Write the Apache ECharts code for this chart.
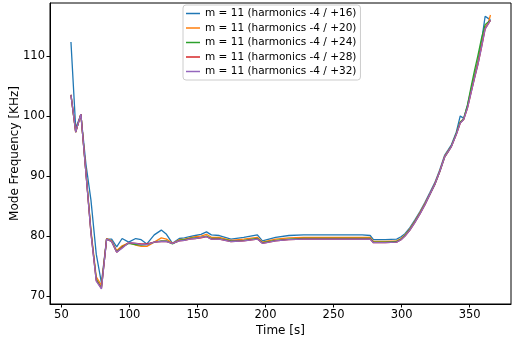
<!DOCTYPE html>
<html><head><meta charset="utf-8">
<script src="https://cdn.jsdelivr.net/npm/echarts@6/dist/echarts.min.js"></script>
<style>html,body{margin:0;padding:0;background:#fff}#c{width:512px;height:337px}</style>
</head><body><div id="c"></div>
<script>
var times = [57, 60.5, 64.3, 68, 71.7, 75.6, 79.4, 83.2, 86.9, 90.6, 94.6, 99.4, 104.6, 108.6, 112.8, 118.2, 123.4, 127.2, 131.6, 136.6, 140.4, 144.2, 148.4, 152.6, 156.6, 160.2, 166, 174.6, 184, 194, 197.7, 207.4, 217.2, 228, 239, 250, 262, 271, 276.9, 279.3, 288, 296.4, 299.6, 302.5, 306.1, 309.8, 313.5, 317.1, 320.7, 324.4, 328, 331.7, 334.1, 336.6, 340.2, 343.1, 345.6, 348.4, 351.2, 353.6, 356.1, 358.8, 361.4, 363.9, 365.3];
var h16 = [112.3, 98.0, 100.2, 92.0, 86.0, 77.0, 72.2, 79.5, 79.5, 78.2, 79.6, 79.0, 79.6, 79.4, 78.7, 80.2, 81.0, 80.3, 78.8, 79.6, 79.7, 79.9, 80.1, 80.3, 80.7, 80.2, 80.1, 79.5, 79.8, 80.2, 79.2, 79.8, 80.1, 80.2, 80.2, 80.2, 80.2, 80.2, 80.1, 79.4, 79.4, 79.5, 79.9, 80.4, 81.4, 82.7, 84.1, 85.6, 87.2, 88.9, 91.0, 93.5, 94.3, 95.2, 97.3, 100.0, 99.6, 101.8, 104.5, 106.8, 109.2, 112.5, 116.6, 116.2, 116.0];
var h20 = [103.5, 97.3, 100.3, 90.8, 81.0, 73.2, 71.8, 79.6, 79.2, 77.6, 78.4, 78.9, 78.5, 78.3, 78.3, 79.0, 79.7, 79.5, 78.8, 79.4, 79.5, 79.7, 79.9, 80.0, 80.3, 79.8, 79.8, 79.3, 79.5, 79.8, 79.0, 79.5, 79.7, 79.8, 79.8, 79.8, 79.8, 79.8, 79.8, 79.1, 79.1, 79.2, 79.6, 80.2, 81.2, 82.5, 83.9, 85.4, 87.0, 88.7, 90.8, 93.3, 94.1, 95.0, 97.0, 99.0, 99.5, 101.5, 104.2, 106.5, 108.9, 111.8, 114.8, 115.6, 116.8];
var h24 = [103.5, 97.3, 100.3, 90.6, 80.7, 72.8, 71.4, 79.5, 79.1, 77.4, 78.2, 78.8, 78.6, 78.5, 78.6, 79.0, 79.2, 79.2, 78.7, 79.3, 79.4, 79.6, 79.7, 79.8, 80.0, 79.6, 79.6, 79.2, 79.3, 79.6, 78.9, 79.3, 79.5, 79.6, 79.6, 79.6, 79.6, 79.6, 79.6, 79.0, 79.0, 79.1, 79.5, 80.1, 81.1, 82.4, 83.8, 85.3, 86.9, 88.6, 90.7, 93.2, 94.0, 95.0, 97.1, 99.0, 99.5, 101.8, 105.0, 107.6, 110.1, 113.0, 115.2, 115.7, 115.9];
var h28 = [103.5, 97.3, 100.3, 90.5, 80.5, 72.6, 71.3, 79.5, 79.1, 77.3, 78.1, 78.9, 78.8, 78.7, 78.7, 79.0, 79.1, 79.1, 78.8, 79.2, 79.3, 79.5, 79.6, 79.7, 79.9, 79.5, 79.5, 79.1, 79.2, 79.5, 78.8, 79.2, 79.4, 79.5, 79.5, 79.5, 79.5, 79.5, 79.5, 78.9, 78.9, 79.0, 79.4, 80.0, 81.0, 82.3, 83.7, 85.2, 86.9, 88.6, 90.7, 93.2, 94.0, 94.9, 96.9, 98.8, 99.4, 101.3, 104.0, 106.3, 108.6, 111.5, 114.5, 115.4, 115.9];
var h32 = [103.5, 97.3, 100.3, 90.5, 80.5, 72.5, 71.2, 79.5, 79.1, 77.3, 78.0, 78.9, 78.8, 78.6, 78.6, 79.0, 79.1, 79.1, 78.8, 79.2, 79.3, 79.5, 79.6, 79.8, 79.9, 79.5, 79.5, 79.1, 79.2, 79.5, 78.8, 79.2, 79.4, 79.5, 79.5, 79.5, 79.5, 79.5, 79.5, 78.9, 78.9, 79.0, 79.4, 80.0, 81.0, 82.3, 83.7, 85.2, 86.9, 88.6, 90.7, 93.2, 94.0, 94.9, 96.9, 98.8, 99.4, 101.3, 104.0, 106.3, 108.6, 111.5, 114.5, 115.4, 115.9];
var seriesNames = ['m = 11 (harmonics -4 / +16)','m = 11 (harmonics -4 / +20)','m = 11 (harmonics -4 / +24)','m = 11 (harmonics -4 / +28)','m = 11 (harmonics -4 / +32)'];
var seriesValues = [h16, h20, h24, h28, h32];
var colors = ['#1f77b4','#ff7f0e','#2ca02c','#d62728','#9467bd'];
var xTicks = [50, 100, 150, 200, 250, 300, 350];
var yTicks = [70, 80, 90, 100, 110];

var font = 'DejaVu Sans';
var chart = echarts.init(document.getElementById('c'), null, {renderer:'canvas'});
chart.setOption({
  animation: false,
  color: colors,
  grid: {left: 50, right: 1, top: 3, bottom: 33, containLabel: false, outerBoundsMode: 'none', show: true, borderColor: '#000', borderWidth: 1, backgroundColor: 'transparent'},
  legend: {
    left: 183, top: 5, orient: 'vertical', icon: 'rect', itemWidth: 14, itemHeight: 1.5, itemGap: 3.5,
    padding: [3, 4, 3, 3], backgroundColor: '#fff', borderColor: '#cccccc', borderWidth: 1, borderRadius: 3,
    textStyle: {fontFamily: font, fontSize: 10.5, color: '#000'},
    data: seriesNames
  },
  xAxis: {
    type: 'value', min: 41.6, max: 380.4,
    name: 'Time [s]', nameLocation: 'middle', nameGap: 21, nameMoveOverlap: false,
    nameTextStyle: {fontFamily: font, fontSize: 12, color: '#000'},
    axisLine: {show: true, lineStyle: {color: '#000', width: 1}},
    axisTick: {show: true, length: 3.5, lineStyle: {color: '#000'}, customValues: xTicks},
    axisLabel: {fontFamily: font, fontSize: 11.5, color: '#000', margin: 5, customValues: xTicks},
    splitLine: {show: false}
  },
  yAxis: {
    type: 'value', min: 68.7, max: 118.8,
    name: 'Mode Frequency [KHz]', nameLocation: 'middle', nameGap: 29, nameRotate: 90, nameMoveOverlap: false,
    nameTextStyle: {fontFamily: font, fontSize: 12, color: '#000'},
    axisLine: {show: true, lineStyle: {color: '#000', width: 1}},
    axisTick: {show: true, length: 3.5, lineStyle: {color: '#000'}, customValues: yTicks},
    axisLabel: {fontFamily: font, fontSize: 11.5, color: '#000', margin: 5, customValues: yTicks},
    splitLine: {show: false}
  },
  series: seriesValues.map(function(vals, i){
    return {
      name: seriesNames[i], type: 'line', showSymbol: false, symbol: 'none',
      lineStyle: {width: 1.3, color: colors[i]}, itemStyle: {color: colors[i]},
      data: times.map(function(t, j){ return [t, vals[j]]; })
    };
  })
});
</script></body></html>
